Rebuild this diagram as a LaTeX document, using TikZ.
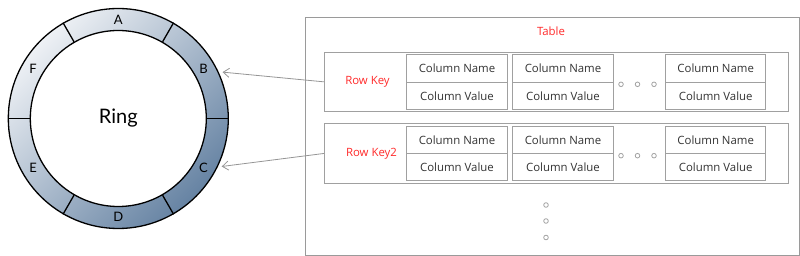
\documentclass[tikz,border=0pt]{standalone}
\usepackage{fontspec}
\setmainfont{Open Sans}
\newfontfamily\ringfont{Lato}
\usetikzlibrary{arrows.meta,calc}
\definecolor{ringlight}{HTML}{EEF1F5}
\definecolor{ringdark}{HTML}{6683A3}
\definecolor{boxgray}{HTML}{A0A0A0}
\definecolor{outergray}{HTML}{9A9A9A}
\definecolor{keyred}{HTML}{FF2A2A}
\definecolor{txtgray}{HTML}{333333}
\definecolor{arrowgray}{HTML}{959595}
\tikzset{
  ringline/.style={draw=black, line width=1.3pt},
  ringlabel/.style={font=\ringfont\fontsize{13}{15}\selectfont, text=black, inner sep=0pt},
  tablebox/.style={draw=outergray, line width=1.2pt, inner sep=0pt, anchor=north west},
  rowbox/.style={draw=boxgray, line width=1pt, inner sep=0pt, anchor=north west, minimum width=464.3pt, minimum height=59.3pt},
  cell/.style={draw=boxgray, line width=1pt, inner sep=0pt, anchor=north west, minimum width=100.4pt, minimum height=27.3pt, text=txtgray, font=\fontsize{11.4}{13}\selectfont},
  keytext/.style={text=keyred, font=\fontsize{11.4}{13}\selectfont, inner sep=0pt},
  dotc/.style={circle, draw=boxgray, line width=0.8pt, minimum size=4.6pt, inner sep=0pt},
  conn/.style={draw=arrowgray, line width=0.8pt, -{Straight Barb[length=6pt,width=9pt]}, shorten >=4pt}
}
\begin{document}
\begin{tikzpicture}[x=1pt,y=-1pt]
\useasboundingbox (0,0) rectangle (800,256);
% ring
\coordinate (c) at (118.3,118.5);
\shade[even odd rule, left color=ringlight, right color=ringdark, shading angle=45]
  (c) circle[radius=110] (c) circle[radius=88];
\node[ringline, circle, minimum size=220pt, inner sep=0pt] (ring) at (c) {};
\node[ringline, circle, minimum size=176pt, inner sep=0pt] (inner) at (c) {\ringfont\fontsize{20}{24}\selectfont Ring};
\foreach \a in {0,60,120,180,240,300}
  \draw[ringline] (inner.\a) -- (ring.\a);
\node[ringlabel] (la) at ($(c)!0.89!(ring.90)$) {A};
\node[ringlabel] (lb) at ($(c)!0.89!(ring.30)$) {B};
\node[ringlabel] (lc) at ($(c)!0.89!(ring.-30)$) {C};
\node[ringlabel] (ld) at ($(c)!0.89!(ring.-90)$) {D};
\node[ringlabel] (le) at ($(c)!0.89!(ring.210)$) {E};
\node[ringlabel] (lf) at ($(c)!0.89!(ring.150)$) {F};
% table
\node[tablebox, minimum width=494pt, minimum height=238.6pt] (table) at (305,16.7) {};
\node[keytext] (ttitle) at (551,31) {Table};
\node[rowbox] (row1) at (324,51.7) {};
\node[rowbox] (row2) at (324,123.3) {};
\node[keytext] (key1) at (367.5,81.5) {Row Key};
\node[keytext] (key2) at (371.5,153.3) {Row Key2};
% row 1 cells
\node[cell] (r1an) at (406.3,54.3) {Column Name};
\node[cell] (r1av) at (406.3,81.6) {Column Value};
\node[cell] (r1bn) at (512.3,54.3) {Column Name};
\node[cell] (r1bv) at (512.3,81.6) {Column Value};
\node[cell] (r1cn) at (665,54.3) {Column Name};
\node[cell] (r1cv) at (665,81.6) {Column Value};
% row 2 cells
\node[cell] (r2an) at (406.3,125.7) {Column Name};
\node[cell] (r2av) at (406.3,153) {Column Value};
\node[cell] (r2bn) at (512.3,125.7) {Column Name};
\node[cell] (r2bv) at (512.3,153) {Column Value};
\node[cell] (r2cn) at (665,125.7) {Column Name};
\node[cell] (r2cv) at (665,153) {Column Value};
% dots
\node[dotc] (d11) at (621,84.3) {};
\node[dotc] (d12) at (637.5,84.3) {};
\node[dotc] (d13) at (654,84.3) {};
\node[dotc] (d21) at (621,155.7) {};
\node[dotc] (d22) at (637.5,155.7) {};
\node[dotc] (d23) at (654,155.7) {};
\node[dotc] (v1) at (546,205) {};
\node[dotc] (v2) at (546,221) {};
\node[dotc] (v3) at (546,237.5) {};
% connectors
\draw[conn] (row1.west) -- (ring.25);
\draw[conn] (row2.west) -- (ring.-26);
\end{tikzpicture}
\end{document}
